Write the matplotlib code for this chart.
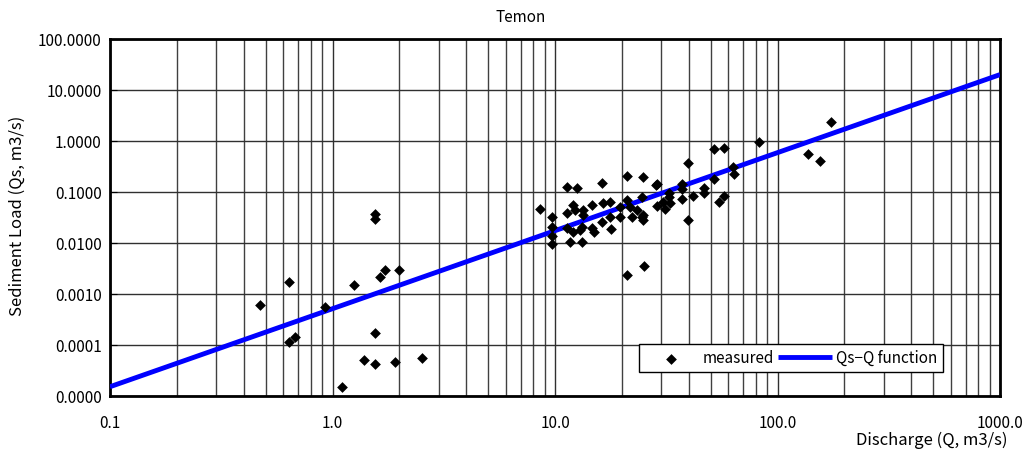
import matplotlib
matplotlib.use("Agg")
import matplotlib.pyplot as plt
import numpy as np
from matplotlib.ticker import FixedLocator, FixedFormatter, NullFormatter

plt.rcParams['font.family'] = ['Noto Sans CJK JP', 'DejaVu Sans']

title = "Temon"
x_label = "Discharge (Q, m3/s)"
y_label = "Sediment Load (Qs, m3/s)"

# measured points (Q, Qs)
q_measured = [0.472, 0.637, 0.637, 0.679, 0.925, 1.10, 1.25, 1.386, 1.552, 1.552, 1.552, 1.552,
              1.635, 1.72, 1.91, 1.99, 2.52,
              8.56, 11.36, 12.6, 16.3, 21.1, 24.8, 28.4, 9.7, 9.7, 9.7, 9.7, 11.36, 11.36, 11.7,
              13.2, 12.1, 12.3, 12.1, 12.9, 13.4, 13.4, 14.6, 14.6, 14.9, 16.2, 16.5, 17.7, 17.7,
              17.8, 19.6, 19.6, 21.0, 21.7, 22.1, 23.3, 24.5, 24.9, 24.5, 13.2, 21.0, 25.1,
              51.8, 57.5, 82.3, 39.5, 28.6, 32.6, 32.6, 30.7, 32.9, 28.6, 31.3, 24.8, 37.1, 37.1,
              37.1, 41.6, 46.7, 46.7, 51.8, 63.3, 63.8, 54.7, 57.5, 39.5, 174.0, 137.0, 155.0]
qs_measured = [6.1e-4, 1.72e-3, 1.15e-4, 1.44e-4, 5.56e-4, 1.5e-5, 1.5e-3, 5.1e-5, 0.037, 0.0295,
               1.72e-4, 4.26e-5, 2.15e-3, 2.96e-3, 4.66e-5, 2.96e-3, 5.6e-5,
               0.0458, 0.124, 0.118, 0.148, 0.206, 0.194, 0.137, 0.032, 0.0204, 0.0137, 0.0096,
               0.038, 0.0194, 0.0106, 0.0106, 0.0556, 0.0444, 0.0167, 0.018, 0.0444, 0.0354,
               0.0556, 0.0194, 0.0167, 0.0262, 0.06, 0.0646, 0.0328, 0.0186, 0.0328, 0.0515,
               0.0697, 0.0515, 0.0328, 0.0444, 0.0328, 0.0282, 0.081, 0.0209, 0.00236, 0.0035,
               0.687, 0.74, 0.97, 0.366, 0.144, 0.094, 0.0787, 0.0646, 0.06, 0.0531, 0.0458,
               0.0354, 0.144, 0.113, 0.072, 0.0835, 0.118, 0.094, 0.178, 0.305, 0.225, 0.0646,
               0.0835, 0.0282, 2.36, 0.548, 0.41]

# Qs-Q function: Qs = a * Q^b
coef_a = 5.15e-4
coef_b = 1.53
q_line = np.array([0.1, 1000.0])

x_ticks = [0.1, 1, 10, 100, 1000]
x_tick_labels = ["0.1", "1.0", "10.0", "100.0", "1000.0"]
y_ticks = [1e-5, 1e-4, 1e-3, 1e-2, 1e-1, 1, 10, 100]
y_tick_labels = ["0.0000", "0.0001", "0.0010", "0.0100", "0.1000", "1.0000", "10.0000", "100.0000"]

fig = plt.figure(figsize=(10.29, 4.55), dpi=100)
ax = fig.add_axes([110/1029, 1-396/455, 890/1029, 357/455])
ax.set_xscale('log')
ax.set_yscale('log')
ax.set_xlim(0.1, 1000)
ax.set_ylim(1e-5, 100)

# grid
minor_x = [m * 10.0**e for e in range(-1, 3) for m in range(2, 10)]
ax.xaxis.set_major_locator(FixedLocator(x_ticks))
ax.xaxis.set_major_formatter(FixedFormatter(x_tick_labels))
ax.xaxis.set_minor_locator(FixedLocator(minor_x))
ax.xaxis.set_minor_formatter(NullFormatter())
ax.yaxis.set_major_locator(FixedLocator(y_ticks))
ax.yaxis.set_major_formatter(FixedFormatter(y_tick_labels))
ax.yaxis.set_minor_locator(FixedLocator([]))
ax.grid(True, which='major', axis='both', color='#303030', linewidth=1.0)
ax.grid(True, which='minor', axis='x', color='#404040', linewidth=1.0)
ax.set_axisbelow(True)

ax.plot(q_line, coef_a * q_line**coef_b, color='#0000ff', linewidth=3.5,
        label='Qs\u2212Q function', zorder=3, solid_capstyle='butt')
ax.scatter(q_measured, qs_measured, marker='D', s=30, color='black',
           label='measured', zorder=4, linewidths=0)

for s in ax.spines.values():
    s.set_linewidth(2.0)
    s.set_color('black')

ax.tick_params(axis='x', which='both', length=0, pad=14, labelsize=11)
ax.tick_params(axis='y', which='major', direction='in', length=5, pad=6, labelsize=11)

fig.text(521/1029, 1-17/455, title, ha='center', va='center', fontsize=11)
fig.text(1008/1029, 1-440/455, x_label, ha='right', va='center', fontsize=12)
fig.text(17/1029, 1-216/455, y_label, ha='center', va='center', rotation=90, fontsize=12)

handles, labels = ax.get_legend_handles_labels()
leg = ax.legend(handles[::-1], labels[::-1], ncol=2, loc='lower right',
                bbox_to_anchor=(943/1029, 1-372/455), bbox_transform=fig.transFigure,
                frameon=True, fancybox=False, edgecolor='black', fontsize=11,
                handlelength=3.5, handletextpad=0.3, columnspacing=0.3,
                borderpad=0.35, framealpha=1, borderaxespad=0)
leg.get_frame().set_linewidth(1.0)

fig.savefig('out.png', dpi=100)
